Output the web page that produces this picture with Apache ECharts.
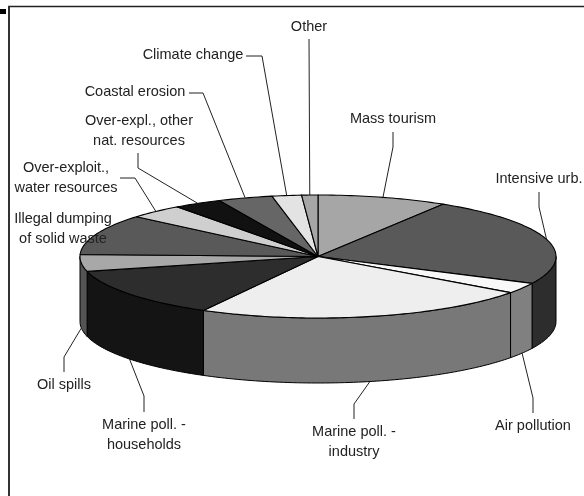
<!DOCTYPE html>
<html>
<head>
<meta charset="utf-8">
<style>html,body{margin:0;padding:0;background:#fff}#c{width:584px;height:496px}</style>
<script src="https://cdn.jsdelivr.net/npm/echarts@6/dist/echarts.min.js"></script>
</head>
<body>
<div id="c"></div>
<script>
// ---- data (clockwise from 12 o'clock, % share)
var categories = ['Mass tourism','Intensive urb.','Air pollution','Marine poll. -\nindustry','Marine poll. -\nhouseholds','Oil spills','Illegal dumping\nof solid waste','Over-exploit.,\nwater resources','Over-expl., other\nnat. resources','Coastal erosion','Climate change','Other'];
var values = [8.8,23.4,2.8,23.0,13.1,4.4,10.7,3.75,3.25,3.7,2.0,1.1];

// ---- styles
var topColors  = ['#a6a6a6','#595959','#f8f8f8','#eeeeee','#2d2d2d','#a8a8a8','#595959','#cfcfcf','#111111','#666666','#e3e3e3','#a6a6a6'];
var sideColors = ['#555555','#2d2d2d','#808080','#787878','#141414','#545454','#2d2d2d','#666666','#080808','#333333','#727272','#555555'];

// ---- layout of the pie and of the labels
var CX = 318, CY = 256.5, RX = 238, RY = 61.5, DEPTH = 65;
var labelPos = [[393,119],[539,179],[533,426],[354,442],[144,435],[64,385],[63,229],[66,178],[139,131],[135,92],[193,55],[309,27]];
var leaderVia = [
  [[393,132],[393,147]],
  [[539,192],[539,207]],
  [[533,413],[533,398]],
  [[354,419],[354,404]],
  [[144,412],[144,396]],
  [[64,372],[64,357]],
  null,
  [[120,178],[135,178]],
  [[138,153],[138,168]],
  [[189,93],[203,93]],
  [[246,56],[262,56]],
  [[309,39]]
];

var total = values.reduce(function(a,b){return a+b;},0);
var cum = [0];
values.forEach(function(v,i){cum.push(cum[i]+v);});
function ang(share){return share/total*Math.PI*2;}
function rim(t,dy){return [CX+RX*Math.sin(t), CY-RY*Math.cos(t)+(dy||0)];}
function arc(a,b,dy){
  var n=Math.max(2,Math.ceil((b-a)/0.02)),p=[];
  for(var i=0;i<=n;i++){p.push(rim(a+(b-a)*i/n,dy));}
  return p;
}

function renderSlice(params,api){
  var i=params.dataIndex, v=api.value(0);
  var a=ang(cum[i]), b=a+ang(v);
  var kids=[];
  var lo=Math.max(a,Math.PI/2), hi=Math.min(b,Math.PI*1.5);
  if(hi>lo){
    kids.push({type:'polygon',shape:{points:arc(lo,hi,0).concat(arc(lo,hi,DEPTH).reverse())},
      style:{fill:sideColors[i],stroke:'#000',lineWidth:1,lineJoin:'round'}});
  }
  kids.push({type:'polygon',shape:{points:[[CX,CY]].concat(arc(a,b,0))},
    style:{fill:topColors[i],stroke:'#000',lineWidth:1.1,lineJoin:'round'}});
  return {type:'group',children:kids};
}

function renderLabel(params,api){
  var i=params.dataIndex, v=api.value(0);
  var mid=ang(cum[i])+ang(v)/2;
  var front=mid>Math.PI/2&&mid<Math.PI*1.5;
  var kids=[];
  if(leaderVia[i]){
    var pts=leaderVia[i].concat([rim(mid,front?DEPTH:0)]);
    kids.push({type:'polyline',shape:{points:pts},style:{fill:null,stroke:'#222',lineWidth:1}});
  }
  kids.push({type:'text',style:{text:categories[i],x:labelPos[i][0],y:labelPos[i][1],
    align:'center',verticalAlign:'middle',textAlign:'center',textVerticalAlign:'middle',
    font:'14.5px "Liberation Sans", Arial, sans-serif',lineHeight:20,fill:'#222'}});
  return {type:'group',children:kids};
}

var chart=echarts.init(document.getElementById('c'),null,{renderer:'canvas'});
chart.setOption({
  animation:false,
  backgroundColor:'#fff',
  graphic:[
    {type:'rect',shape:{x:0,y:9,width:6,height:5},style:{fill:'#000'}},
    {type:'line',shape:{x1:8,y1:6.5,x2:584,y2:6.5},style:{stroke:'#222',lineWidth:1.5}},
    {type:'line',shape:{x1:9,y1:6,x2:9,y2:496},style:{stroke:'#333',lineWidth:2}}
  ],
  series:[
    {type:'custom',coordinateSystem:'none',silent:true,clip:false,z:2,data:values.map(function(v){return [v];}),renderItem:renderSlice},
    {type:'custom',coordinateSystem:'none',silent:true,clip:false,z:3,data:values.map(function(v){return [v];}),renderItem:renderLabel}
  ]
});
</script>
</body>
</html>
